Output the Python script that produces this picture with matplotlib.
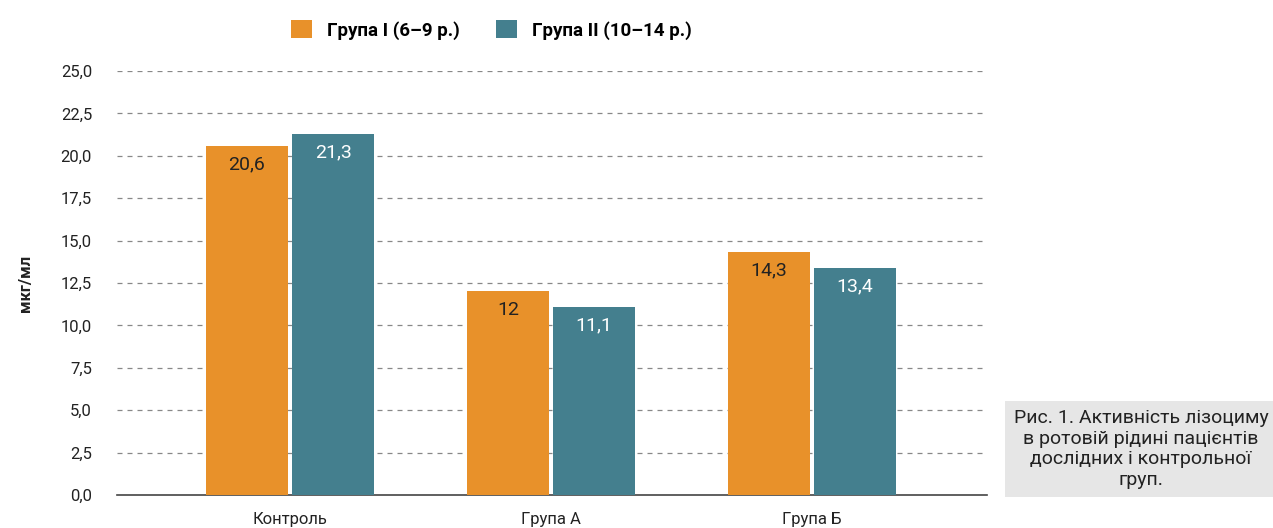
import numpy as np
import matplotlib.pyplot as plt

categories = ['Контроль', 'Група А', 'Група Б']
group1 = [20.6, 12, 14.3]
group2 = [21.3, 11.1, 13.4]
labels1 = ['20,6', '12', '14,3']
labels2 = ['21,3', '11,1', '13,4']
legend_names = ['Група I (6–9 р.)', 'Група II (10–14 р.)']
yticks = np.arange(0, 25.1, 2.5)
caption = 'Рис. 1. Активність лізоциму\nв ротовій рідині пацієнтів\nдослідних і контрольної\nгруп.'

orange = '#E8912A'
teal = '#447F8E'

plt.rcParams['font.family'] = ['Roboto', 'DejaVu Sans']

fig = plt.figure(figsize=(12.73, 5.28), dpi=100)
ax = fig.add_axes([117 / 1273, 33 / 528, 870 / 1273, 424 / 528])

x = np.arange(len(categories))
w = 0.314
off = w / 2 + 0.008
b1 = ax.bar(x - off, group1, w, color=orange, label=legend_names[0], zorder=3)
b2 = ax.bar(x + off, group2, w, color=teal, label=legend_names[1], zorder=3)

for rect, lab in zip(b1, labels1):
    ax.text(rect.get_x() + rect.get_width() / 2, rect.get_height() - 0.55, lab,
            ha='center', va='top', fontsize=14, color='#222222', zorder=4)
for rect, lab in zip(b2, labels2):
    ax.text(rect.get_x() + rect.get_width() / 2, rect.get_height() - 0.55, lab,
            ha='center', va='top', fontsize=14, color='white', zorder=4)

ax.set_xlim(-0.663, 2.67)
ax.set_ylim(0, 25)
ax.set_yticks(yticks)
ax.set_yticklabels([f'{v:.1f}'.replace('.', ',') for v in yticks], fontsize=12, color='#222222')
ax.set_xticks(x)
ax.set_xticklabels(categories, fontsize=12, color='#222222')
ax.tick_params(axis='both', length=0)
ax.tick_params(axis='y', pad=18)
ax.tick_params(axis='x', pad=12)

for v in yticks[1:]:
    ax.axhline(v, color='#888888', linestyle=(0, (4, 4)), linewidth=0.9, zorder=1)
for s in ['top', 'right', 'left']:
    ax.spines[s].set_visible(False)
ax.spines['bottom'].set_color('#444444')
ax.spines['bottom'].set_linewidth(1.2)

ax.set_ylabel('мкг/мл', fontsize=12, fontweight='bold', color='#222222', labelpad=20)

fig.legend(loc='upper left', bbox_to_anchor=(274 / 1273, 1 - 3 / 528), ncol=2, frameon=False,
           prop={'size': 13.5, 'weight': 'bold'}, handlelength=1.15, handleheight=1.15,
           columnspacing=1.9, handletextpad=0.8)

fig.text(1141 / 1273, 1 - 449 / 528, caption, ha='center', va='center', fontsize=14,
         color='#222222', linespacing=1.2,
         bbox=dict(boxstyle='square,pad=0.42', facecolor='#e6e6e6', edgecolor='none'))

fig.savefig('out.png', dpi=100)
